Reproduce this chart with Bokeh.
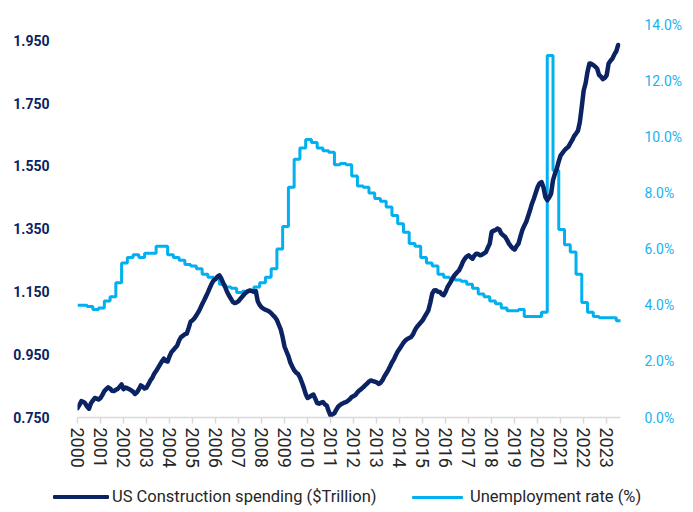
from bokeh.plotting import figure
from bokeh.layouts import column
from bokeh.models import (Range1d, LinearAxis, FixedTicker, NumeralTickFormatter,
                          PrintfTickFormatter, Div)
from bokeh.embed import file_html
from bokeh.resources import INLINE

# ---------------- data ----------------
start_year = 2000
years = list(range(2000, 2024))
year_labels = [str(y) for y in years]

# US construction spending, $ trillion, monthly Jan 2000 - Jul 2023
construction_spending = [
    0.780, 0.790, 0.802, 0.800, 0.795, 0.785, 0.778, 0.795, 0.804, 0.812, 0.810, 0.807,
    0.812, 0.822, 0.834, 0.840, 0.846, 0.842, 0.835, 0.834, 0.838, 0.841, 0.848, 0.855,
    0.840, 0.845, 0.843, 0.840, 0.836, 0.832, 0.825, 0.830, 0.840, 0.852, 0.848, 0.842,
    0.845, 0.856, 0.868, 0.876, 0.889, 0.898, 0.908, 0.918, 0.928, 0.937, 0.930, 0.928,
    0.945, 0.958, 0.965, 0.972, 0.979, 0.995, 1.006, 1.010, 1.015, 1.017, 1.035, 1.055,
    1.059, 1.066, 1.075, 1.085, 1.097, 1.110, 1.122, 1.135, 1.148, 1.162, 1.176, 1.186,
    1.190, 1.198, 1.202, 1.192, 1.178, 1.165, 1.150, 1.138, 1.128, 1.118, 1.114, 1.116,
    1.120, 1.128, 1.135, 1.142, 1.148, 1.152, 1.154, 1.152, 1.150, 1.152, 1.120, 1.108,
    1.100, 1.096, 1.093, 1.090, 1.087, 1.082, 1.075, 1.069, 1.060, 1.045, 1.030, 1.005,
    0.975, 0.960, 0.945, 0.925, 0.912, 0.900, 0.893, 0.889, 0.878, 0.862, 0.845, 0.825,
    0.812, 0.815, 0.820, 0.823, 0.810, 0.796, 0.794, 0.797, 0.799, 0.792, 0.788, 0.770,
    0.756, 0.760, 0.764, 0.775, 0.785, 0.790, 0.794, 0.797, 0.799, 0.803, 0.808, 0.815,
    0.818, 0.822, 0.830, 0.836, 0.841, 0.846, 0.852, 0.858, 0.864, 0.868, 0.866, 0.864,
    0.862, 0.857, 0.860, 0.868, 0.880, 0.890, 0.900, 0.912, 0.925, 0.935, 0.948, 0.960,
    0.969, 0.978, 0.988, 0.995, 1.000, 1.003, 1.006, 1.015, 1.028, 1.038, 1.045, 1.052,
    1.059, 1.070, 1.080, 1.091, 1.115, 1.144, 1.154, 1.155, 1.150, 1.149, 1.142, 1.139,
    1.150, 1.165, 1.175, 1.185, 1.197, 1.205, 1.212, 1.218, 1.230, 1.245, 1.255, 1.262,
    1.266, 1.260, 1.255, 1.265, 1.271, 1.270, 1.266, 1.268, 1.272, 1.276, 1.290, 1.303,
    1.340, 1.344, 1.346, 1.351, 1.348, 1.335, 1.330, 1.325, 1.315, 1.303, 1.295, 1.288,
    1.284, 1.295, 1.303, 1.325, 1.346, 1.360, 1.372, 1.390, 1.409, 1.430, 1.446, 1.465,
    1.483, 1.495, 1.499, 1.483, 1.452, 1.441, 1.450, 1.462, 1.505, 1.525, 1.542, 1.565,
    1.584, 1.592, 1.600, 1.606, 1.611, 1.622, 1.632, 1.645, 1.653, 1.662, 1.690, 1.738,
    1.790, 1.813, 1.850, 1.876, 1.875, 1.871, 1.866, 1.860, 1.840, 1.834, 1.826, 1.830,
    1.839, 1.876, 1.885, 1.892, 1.905, 1.915, 1.935,
]

# Unemployment rate (%), quarterly 2000Q1 - 2023Q3
unemployment_rate = [
    4.0, 3.95, 3.85, 3.9,
    4.15, 4.3, 4.8, 5.5,
    5.7, 5.8, 5.7, 5.85,
    5.85, 6.1, 6.1, 5.8,
    5.7, 5.6, 5.45, 5.4,
    5.3, 5.1, 5.0, 4.95,
    4.75, 4.65, 4.6, 4.45,
    4.5, 4.5, 4.65, 4.8,
    5.0, 5.3, 6.0, 6.8,
    8.2, 9.2, 9.6, 9.9,
    9.8, 9.6, 9.5, 9.45,
    9.0, 9.05, 9.0, 8.6,
    8.25, 8.2, 8.0, 7.8,
    7.7, 7.5, 7.2, 6.9,
    6.6, 6.2, 6.1, 5.7,
    5.5, 5.4, 5.1, 5.0,
    4.95, 4.9, 4.85, 4.75,
    4.6, 4.4, 4.3, 4.15,
    4.05, 3.9, 3.8, 3.8,
    3.85, 3.6, 3.6, 3.6,
    3.75, 12.9, 8.8, 6.7,
    6.15, 5.9, 5.1, 4.1,
    3.75, 3.6, 3.55, 3.55,
    3.55, 3.45, 3.45,
]

left_ticks = [0.75, 0.95, 1.15, 1.35, 1.55, 1.75, 1.95]
right_ticks = [0, 2, 4, 6, 8, 10, 12, 14]
series_names = ["US Construction spending ($Trillion)", "Unemployment rate (%)"]

# ---------------- derived x positions ----------------
cs_x = [start_year + i / 12 for i in range(len(construction_spending))]
# quarterly values shown from the quarter's last month onward
ur_x = [float(start_year)] + [start_year + i / 4 + 2 / 12 for i in range(len(unemployment_rate))]
ur_y = [unemployment_rate[0]] + unemployment_rate

NAVY = "#0b2263"
SKY = "#00b0f0"
FONT = "Roboto"

p = figure(width=685, height=475, output_backend="svg", toolbar_location=None,
           x_range=Range1d(2000, 2023.6), y_range=Range1d(0.75, 2.0),
           min_border_left=77, min_border_right=58, min_border_top=24,
           min_border_bottom=58)
p.outline_line_color = None
p.grid.visible = False
p.background_fill_color = "white"
p.border_fill_color = "white"

p.extra_y_ranges = {"ur": Range1d(0, 14)}

p.step(ur_x, ur_y, mode="after", line_color=SKY, line_width=3, y_range_name="ur")
p.line(cs_x, construction_spending, line_color=NAVY, line_width=4.5,
       line_join="round", line_cap="round")

# x axis
xa = p.xaxis[0]
xa.ticker = FixedTicker(ticks=years)
xa.major_label_overrides = {y: lab for y, lab in zip(years, year_labels)}
xa.major_label_orientation = "vertical"
xa.major_label_text_font = FONT
xa.major_label_text_font_size = "18px"
xa.major_label_text_color = "#262626"
xa.axis_line_color = "#d9d9d9"
xa.axis_line_width = 1.5
xa.major_tick_line_color = "#d9d9d9"
xa.major_tick_line_width = 1.5
xa.major_tick_in = 0
xa.major_tick_out = 6
xa.minor_tick_line_color = None
xa.major_label_standoff = 4

# left axis
ya = p.yaxis[0]
ya.ticker = FixedTicker(ticks=left_ticks)
ya.formatter = NumeralTickFormatter(format="0.000")
ya.axis_line_color = None
ya.major_tick_line_color = None
ya.minor_tick_line_color = None
ya.major_label_text_font = FONT
ya.major_label_text_font_size = "14px"
ya.major_label_text_font_style = "bold"
ya.major_label_text_color = NAVY
ya.major_label_standoff = 22

# right axis
ra = LinearAxis(y_range_name="ur", ticker=FixedTicker(ticks=right_ticks),
                formatter=PrintfTickFormatter(format="%.1f%%"))
ra.axis_line_color = None
ra.major_tick_line_color = None
ra.minor_tick_line_color = None
ra.major_label_text_font = FONT
ra.major_label_text_font_size = "14px"
ra.major_label_text_color = "#1ab2ee"
ra.major_label_standoff = 18
p.add_layout(ra, "right")

# ---------------- legend strip (HTML) ----------------
def key(left, width, thick, color, text_left, label):
    return (
        f'<div style="position:absolute;left:{left}px;top:{22 - thick / 2}px;'
        f'width:{width}px;height:{thick}px;background:{color};border-radius:1px;"></div>'
        f'<div style="position:absolute;left:{text_left}px;top:22px;transform:translateY(-50%);'
        f'white-space:nowrap;font-family:{FONT};font-size:16.5px;color:#262626;">{label}</div>'
    )

legend_html = (
    '<div style="position:relative;width:685px;height:35px;">'
    + key(53, 56, 4.5, NAVY, 112, series_names[0])
    + key(412, 51, 3, SKY, 470, series_names[1])
    + '</div>'
)
legend_div = Div(text=legend_html, width=685, height=35, margin=0)

layout = column(p, legend_div, spacing=0)

open("out.html", "w").write(file_html(layout, INLINE))
